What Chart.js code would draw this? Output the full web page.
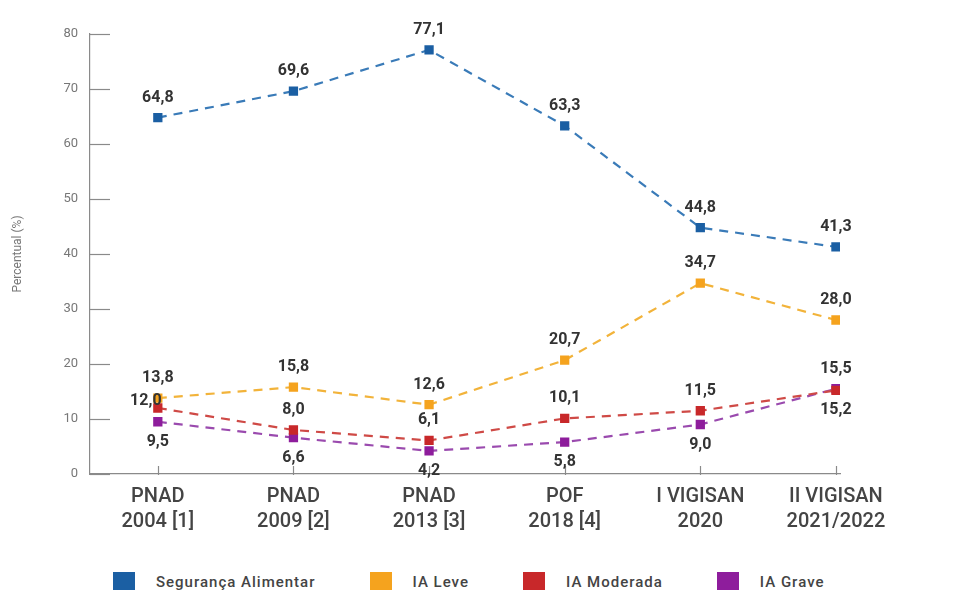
<!DOCTYPE html>
<html>
<head>
<meta charset="utf-8">
<script src="https://cdn.jsdelivr.net/npm/chart.js@4.4.0/dist/chart.umd.min.js"></script>
<style>
  html,body{margin:0;padding:0;background:#fff;width:961px;height:590px;overflow:hidden;}
  #wrap{position:absolute;left:0;top:0;width:961px;height:544px;}
  #legend{position:absolute;left:113px;top:572px;display:flex;align-items:center;white-space:nowrap;
    font-family:Roboto,"Noto Sans",sans-serif;font-size:15px;font-weight:500;letter-spacing:1px;color:#444;}
  .item{display:flex;align-items:center;margin-right:54px;}
  .box{width:22px;height:20px;margin-right:21px;}
</style>
</head>
<body>
<div id="wrap"><canvas id="c"></canvas></div>
<div id="legend"></div>
<script>
const categories = [
  ["PNAD","2004 [1]"],
  ["PNAD","2009 [2]"],
  ["PNAD","2013 [3]"],
  ["POF","2018 [4]"],
  ["I VIGISAN","2020"],
  ["II VIGISAN","2021/2022"]
];
const seriesNames = ["Segurança Alimentar","IA Leve","IA Moderada","IA Grave"];
const seguranca = [64.8, 69.6, 77.1, 63.3, 44.8, 41.3];
const iaLeve    = [13.8, 15.8, 12.6, 20.7, 34.7, 28.0];
const iaModerada= [12.0, 8.0, 6.1, 10.1, 11.5, 15.2];
const iaGrave   = [9.5, 6.6, 4.2, 5.8, 9.0, 15.5];
const yTicks = [0,10,20,30,40,50,60,70,80];

const colors = ["#1b5fa3","#f5a31e","#c8282a","#8e1d9c"];
const lineColors = ["#3a7bb8","#f2b33a","#cf4a46","#9a4aae"];
// label placement per point: a=above, b=below, l=left-above
const labelPlace = [
  ["a","a","a","a","a","a"],
  ["a","a","a","a","a","a"],
  ["l","a","a","a","a","b"],
  ["b","b","b","b","b","a"]
];
const allSeries = [seguranca, iaLeve, iaModerada, iaGrave];

const fmt = v => v.toFixed(1).replace(".", ",");

const datasets = allSeries.map((s, k) => ({
  label: seriesNames[k],
  data: s.map((v, i) => ({x: i, y: v})),
  borderColor: lineColors[k],
  backgroundColor: colors[k],
  pointBackgroundColor: colors[k],
  pointBorderColor: colors[k],
  pointStyle: "rect",
  pointRadius: 5,
  pointHoverRadius: 5,
  borderWidth: 2.2,
  borderDash: [9, 7],
  fill: false,
  tension: 0
}));

const innerTicks = {
  id: "innerTicks",
  afterDatasetsDraw(chart) {
    const ctx = chart.ctx, x = chart.scales.x, y = chart.scales.y, a = chart.chartArea;
    ctx.save();
    ctx.strokeStyle = "#8a8a8a";
    ctx.lineWidth = 1.2;
    y.ticks.forEach((t) => {
      const py = Math.round(y.getPixelForValue(t.value)) + 0.5;
      ctx.beginPath(); ctx.moveTo(a.left, py); ctx.lineTo(a.left + 20, py); ctx.stroke();
    });
    x.ticks.forEach((t) => {
      const px = Math.round(x.getPixelForValue(t.value)) + 0.5;
      ctx.beginPath(); ctx.moveTo(px, a.bottom - 8); ctx.lineTo(px, a.bottom + 1); ctx.stroke();
    });
    ctx.restore();
  }
};

const dataLabels = {
  id: "dataLabels",
  afterDatasetsDraw(chart) {
    const ctx = chart.ctx;
    ctx.save();
    ctx.font = "bold 16px Roboto, 'Noto Sans', sans-serif";
    ctx.fillStyle = "#333";
    ctx.textAlign = "center";
    ctx.textBaseline = "middle";
    chart.data.datasets.forEach((ds, k) => {
      const meta = chart.getDatasetMeta(k);
      meta.data.forEach((pt, i) => {
        const p = labelPlace[k][i];
        let dx = 0, dy = -20;
        if (p === "b") dy = 20;
        if (p === "l") { dx = -12; dy = -7; }
        ctx.fillText(fmt(allSeries[k][i]), pt.x + dx, pt.y + dy);
      });
    });
    ctx.restore();
  }
};

new Chart(document.getElementById("c"), {
  type: "line",
  data: { datasets },
  options: {
    responsive: true,
    maintainAspectRatio: false,
    animation: false,
    layout: { padding: { left: 7, right: 121, top: 34, bottom: 0 } },
    plugins: {
      legend: { display: false },
      tooltip: { enabled: false }
    },
    scales: {
      x: {
        type: "linear",
        min: -0.5,
        max: 5.03,
        afterBuildTicks: (s) => { s.ticks = categories.map((_, i) => ({ value: i })); },
        grid: { display: false, drawTicks: false },
        border: { display: true, color: "#8a8a8a", width: 1.2 },
        ticks: {
          padding: 10,
          autoSkip: false,
          maxRotation: 0,
          color: "#444",
          font: { family: "Roboto, sans-serif", size: 20, weight: 500, lineHeight: 1.25 },
          callback: (v) => categories[v]
        }
      },
      y: {
        min: 0,
        max: 80,
        afterBuildTicks: (s) => { s.ticks = yTicks.map(v => ({ value: v })); },
        grid: { display: false, drawTicks: false },
        border: { display: true, color: "#8a8a8a", width: 1.2 },
        title: {
          display: true,
          text: "Percentual (%)",
          color: "#777",
          font: { family: "Roboto, sans-serif", size: 12 },
          padding: { top: 4, bottom: 26 }
        },
        ticks: {
          padding: 12,
          color: "#777",
          font: { family: "Roboto, sans-serif", size: 13 }
        }
      }
    }
  },
  plugins: [innerTicks, dataLabels]
});

const lg = document.getElementById("legend");
seriesNames.forEach((n, k) => {
  const it = document.createElement("div"); it.className = "item";
  const b = document.createElement("div"); b.className = "box"; b.style.background = colors[k];
  const t = document.createElement("span"); t.textContent = n;
  it.appendChild(b); it.appendChild(t); lg.appendChild(it);
});
</script>
</body>
</html>
